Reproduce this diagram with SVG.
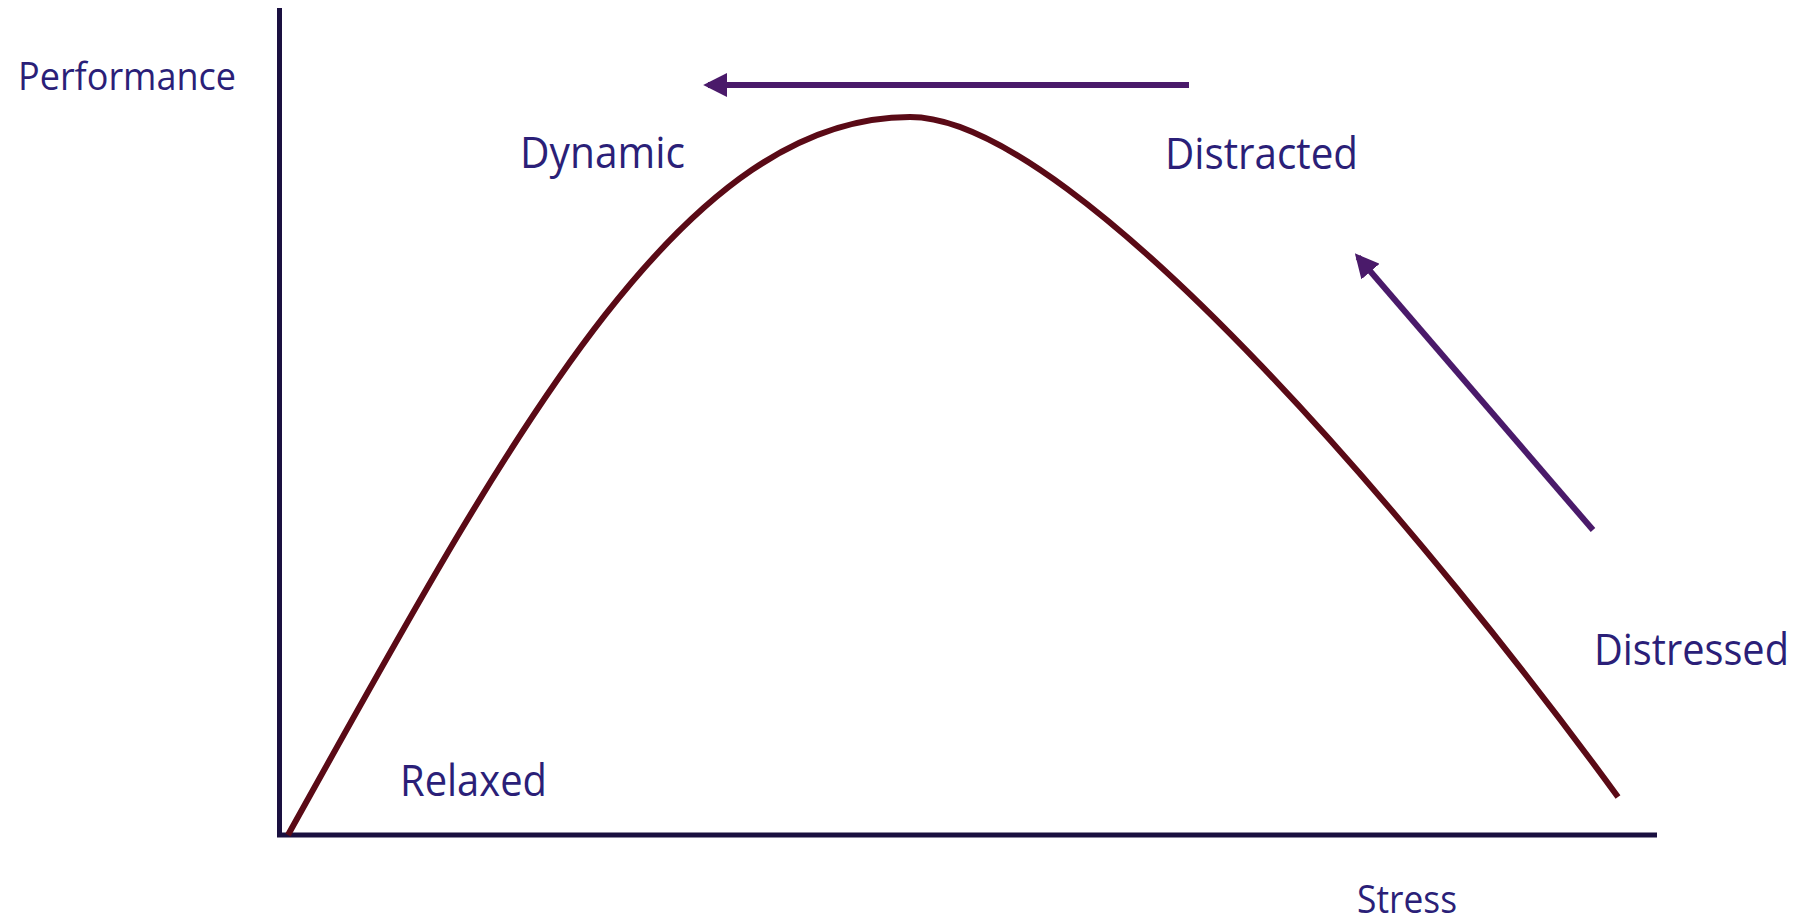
<svg xmlns="http://www.w3.org/2000/svg" width="1804" height="921" viewBox="0 0 1804 921">
<style>
.axis{stroke:#1A1040;stroke-width:5;fill:none}
.curve{stroke:#5A0A16;stroke-width:6;fill:none}
.arrow{stroke:#4A1A6A;stroke-width:6;fill:none}
.lbl{font-family:"Open Sans","Noto Sans","Liberation Sans",sans-serif;fill:#2B1F78;font-size:43.5px}
.ax{font-size:38.5px}
</style>
<defs>
<marker id="ah" viewBox="0 0 10 10" refX="8" refY="5" markerWidth="4" markerHeight="4" markerUnits="strokeWidth" orient="auto">
<path d="M0,0 L10,5 L0,10 z" fill="#4A1A6A"/>
</marker>
</defs>
<rect width="1804" height="921" fill="#FFFFFF"/>
<g id="axes">
<line class="axis" x1="279.5" y1="8" x2="279.5" y2="837"/>
<line class="axis" x1="277" y1="835" x2="1657" y2="835"/>
</g>
<g id="curve">
<path class="curve" d="M288,835 C508.5,439 680,117 910,117 C1080,117 1441,554 1618,797"/>
</g>
<g id="connectors">
<line class="arrow" x1="1189" y1="85" x2="708" y2="85" marker-end="url(#ah)"/>
<line class="arrow" x1="1593" y1="530" x2="1358" y2="257" marker-end="url(#ah)"/>
</g>
<g id="label-performance"><text class="lbl ax" x="18" y="90" textLength="218" lengthAdjust="spacingAndGlyphs">Performance</text></g>
<g id="label-dynamic"><text class="lbl" x="520" y="168" textLength="165" lengthAdjust="spacingAndGlyphs">Dynamic</text></g>
<g id="label-distracted"><text class="lbl" x="1165" y="169" textLength="193" lengthAdjust="spacingAndGlyphs">Distracted</text></g>
<g id="label-relaxed"><text class="lbl" x="400" y="796" textLength="147" lengthAdjust="spacingAndGlyphs">Relaxed</text></g>
<g id="label-distressed"><text class="lbl" x="1594" y="665" textLength="195" lengthAdjust="spacingAndGlyphs">Distressed</text></g>
<g id="label-stress"><text class="lbl ax" x="1357" y="913" textLength="100" lengthAdjust="spacingAndGlyphs">Stress</text></g>
</svg>
